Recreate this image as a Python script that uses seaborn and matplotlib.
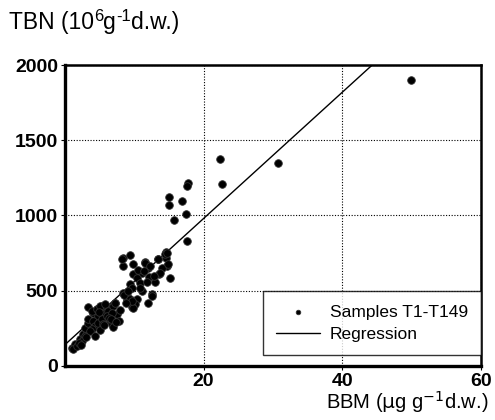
import numpy as np
import pandas as pd
import seaborn as sns
import matplotlib.pyplot as plt

# Samples T1-T149 (BBM in ug/g d.w., TBN in 10^6/g d.w.)
bbm = [49.9, 30.7, 22.4, 22.6, 17.7, 17.6, 15.0, 15.0, 16.9, 17.5, 15.8, 17.6,
       14.6, 14.6, 13.4, 14.7, 14.0, 11.5, 12.0,
       8.4, 9.4, 9.8, 8.4, 11.5, 12.3, 14.4, 13.6, 11.1, 12.1, 9.8, 10.4,
       9.4, 10.8, 9.7, 11.1, 8.4, 8.9, 10.4, 12.6, 12.0, 10.1, 8.9, 7.2,
       6.5, 5.3, 4.6, 5.8, 4.0, 6.9,
       1.0, 1.4, 2.2, 2.6, 3.2, 2.9, 3.3, 3.3, 3.3, 3.9, 4.6, 4.8, 4.0, 4.3,
       3.9, 4.8, 5.3, 5.5, 5.1, 5.8, 6.2, 6.1, 6.5, 6.8, 6.9, 7.2, 7.5, 6.8,
       8.5, 9.7, 9.4, 2.9, 2.5, 1.2, 1.7,
       15.2, 12.6, 9.8, 9.7, 8.2, 13.4, 14.7, 14.9, 13.7,
       7.8, 7.0, 5.0, 3.6, 2.0, 4.4, 6.3, 7.9, 8.8, 10.9, 11.8, 5.6, 3.0,
       2.3, 4.9, 6.6, 7.4, 9.1, 10.6, 13.0, 12.9, 11.4]
tbn = [1900, 1347, 1373, 1207, 1213, 1195, 1120, 1067, 1093, 1007, 973, 827,
       760, 720, 713, 667, 653, 693, 653,
       720, 740, 680, 667, 687, 667, 747, 613, 620, 593, 613, 587,
       547, 553, 520, 500, 487, 467, 447, 480, 420, 413, 440, 420,
       387, 400, 380, 353, 353, 347,
       120, 147, 180, 213, 233, 253, 287, 313, 393, 367, 380, 333, 300, 267,
       247, 287, 313, 280, 400, 413, 367, 333, 300, 280, 400, 420, 347, 353,
       473, 393, 447, 200, 167, 113, 133,
       587, 467, 387, 433, 713, 713, 753, 680, 620,
       300, 260, 240, 230, 150, 200, 320, 370, 420, 520, 560, 270, 190,
       140, 360, 310, 290, 500, 640, 560, 600, 630]

# regression line
reg_x = [0, 50]
reg_y = [140, 2240]

samples = pd.DataFrame({'BBM': bbm, 'TBN': tbn})
reg = pd.DataFrame({'BBM': reg_x, 'TBN': reg_y})

sns.set_style('white')
plt.rcParams['font.family'] = ['Liberation Sans', 'DejaVu Sans']

fig = plt.figure(figsize=(4.95, 4.2), dpi=100)
ax = fig.add_axes([0.131, 0.129, 0.841, 0.716])

sns.scatterplot(data=samples, x='BBM', y='TBN', ax=ax, color='black', s=30,
                edgecolor='#333333', linewidth=0.6, label='Samples T1-T149', zorder=3)
sns.lineplot(data=reg, x='BBM', y='TBN', ax=ax, color='black', linewidth=1.0,
             label='Regression', zorder=2)

ax.set_xlim(0, 60)
ax.set_ylim(0, 2000)
ax.set_xticks([20, 40, 60])
ax.set_yticks([0, 500, 1000, 1500, 2000])
ax.grid(True, color='black', linestyle=(0, (1, 1.5)), linewidth=0.8)
ax.tick_params(axis='both', labelsize=14, length=3, width=0.8, direction='out',
               left=True, bottom=True, pad=2, colors='black', labelcolor='black')
for lab in ax.get_xticklabels() + ax.get_yticklabels():
    lab.set_fontweight('bold')

for side in ['left', 'bottom']:
    ax.spines[side].set_linewidth(2.4)
for side in ['top', 'right']:
    ax.spines[side].set_linewidth(1.8)
for sp in ax.spines.values():
    sp.set_color('black')

ax.set_xlabel('')
ax.set_ylabel('')

# y label built from pieces so the superscripts stay large, as in the original
renderer = fig.canvas.get_renderer()
x_px = 9
for txt, size, rise in [('TBN (10', 16.5, 0), ('6', 12, 8), ('g', 16.5, 0),
                        ('-1', 12, 8), ('d.w.)', 16.5, 0)]:
    t = fig.text(x_px / 495, (391 + rise) / 420, txt, fontsize=size,
                 ha='left', va='baseline', color='black')
    x_px += t.get_window_extent(renderer).width

fig.text(0.986, 0.043, r'BBM ($\mathrm{\mu}$g g$^{-1}$d.w.)', fontsize=14.5, ha='right',
         va='center', color='black')

leg = ax.legend(loc='lower right', bbox_to_anchor=(1.0, 0.037), borderaxespad=0,
                frameon=True, fancybox=False, edgecolor='black', fontsize=12.5,
                handlelength=2.5, handletextpad=0.6, borderpad=0.75,
                labelspacing=0.4, markerscale=0.6)
leg.get_frame().set_linewidth(1.0)
for t in leg.get_texts():
    t.set_color('black')

fig.savefig('out.png', dpi=100)
